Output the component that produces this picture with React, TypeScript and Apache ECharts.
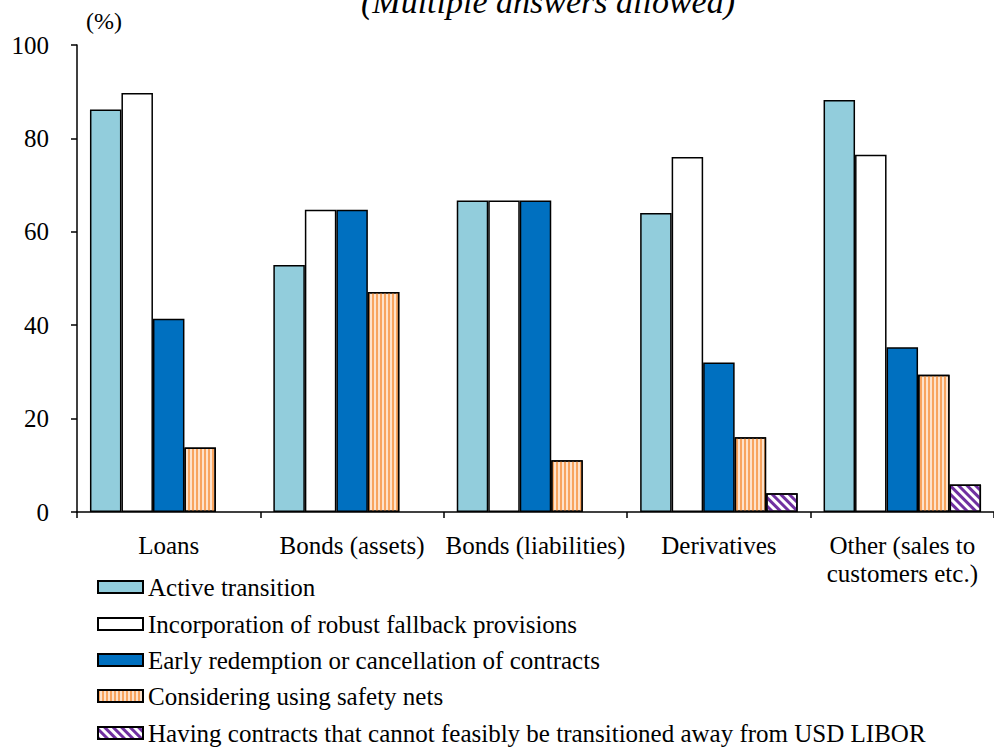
import React, { useEffect, useRef } from "react";
import * as echarts from "echarts";

const categories = [
  "Loans",
  "Bonds (assets)",
  "Bonds (liabilities)",
  "Derivatives",
  "Other (sales to\ncustomers etc.)",
];
const seriesNames = [
  "Active transition",
  "Incorporation of robust fallback provisions",
  "Early redemption or cancellation of contracts",
  "Considering using safety nets",
  "Having contracts that cannot feasibly be transitioned away from USD LIBOR",
];
const activeTransition = [86.2, 52.9, 66.7, 64.0, 88.2];
const robustFallback = [89.7, 64.7, 66.7, 76.0, 76.5];
const earlyRedemption = [41.4, 64.7, 66.7, 32.0, 35.3];
const safetyNets = [13.8, 47.1, 11.1, 16.0, 29.4];
const cannotTransition: (number | null)[] = [null, null, null, 4.0, 5.9];
const yTicks = [0, 20, 40, 60, 80, 100];

const FONT = "Liberation Serif, serif";

export default function App() {
  const ref = useRef<HTMLDivElement>(null);
  useEffect(() => {
    if (!ref.current) return;
    const chart = echarts.init(ref.current, undefined, { renderer: "svg" });
    const border = { borderColor: "#000", borderWidth: 1.5 };
    const mk = (i: number, data: (number | null)[], itemStyle: any) => ({
      name: seriesNames[i],
      type: "bar",
      data,
      barWidth: 31.5,
      barGap: "0%",
      itemStyle: { ...border, ...itemStyle },
    });
    const legendCenters = [587, 624, 660, 696, 733];
    chart.setOption({
      animation: false,
      backgroundColor: "#fff",
      textStyle: { fontFamily: FONT },
      grid: { left: 77, right: -13, top: 45, bottom: 235, containLabel: false },
      graphic: [
        {
          type: "text",
          x: 548,
          y: 1,
          style: {
            text: "(Multiple answers allowed)",
            font: `italic 34px ${FONT}`,
            fill: "#000",
            align: "center",
            verticalAlign: "middle",
          },
        },
        {
          type: "text",
          x: 104,
          y: 21,
          style: {
            text: "(%)",
            font: `24px ${FONT}`,
            fill: "#000",
            align: "center",
            verticalAlign: "middle",
          },
        },
      ],
      legend: seriesNames.map((n, i) => ({
        orient: "vertical",
        left: 97,
        top: legendCenters[i] - 12.5,
        padding: 0,
        itemWidth: 45,
        itemHeight: 12,
        icon: "rect",
        data: [n],
        textStyle: { fontFamily: FONT, fontSize: 25, lineHeight: 25, color: "#000" },
      })),
      xAxis: {
        type: "category",
        data: categories,
        axisLine: { lineStyle: { color: "#000", width: 1.5 } },
        axisTick: { show: true, length: 6, lineStyle: { color: "#000", width: 1.5 } },
        axisLabel: {
          color: "#000",
          fontFamily: FONT,
          fontSize: 25,
          lineHeight: 28,
          margin: 19,
          interval: 0,
        },
      },
      yAxis: {
        type: "value",
        min: 0,
        max: 100,
        interval: 20,
        axisLine: { show: true, lineStyle: { color: "#000", width: 1.5 } },
        axisTick: { show: true, length: 6, lineStyle: { color: "#000", width: 1.5 } },
        splitLine: { show: false },
        axisLabel: {
          color: "#000",
          fontFamily: FONT,
          fontSize: 25,
          margin: 28,
          formatter: (v: number) => (yTicks.includes(v) ? String(v) : ""),
        },
      },
      series: [
        mk(0, activeTransition, { color: "#92CDDC" }),
        mk(1, robustFallback, { color: "#FFFFFF" }),
        mk(2, earlyRedemption, { color: "#0070C0" }),
        mk(3, safetyNets, {
          color: "#FDE2CB",
          decal: {
            color: "#F8A45E",
            symbol: "rect",
            symbolSize: 1,
            dashArrayX: [2, 2],
            dashArrayY: [1, 0],
            rotation: 0,
          },
        }),
        mk(4, cannotTransition, {
          color: "#FFFFFF",
          decal: {
            color: "#7030A0",
            symbol: "rect",
            symbolSize: 1,
            dashArrayX: [1, 0],
            dashArrayY: [3, 3],
            rotation: Math.PI / 4,
          },
        }),
      ],
    });
    return () => chart.dispose();
  }, []);
  return <div ref={ref} style={{ width: 994, height: 747, position: "absolute", left: 0, top: 0 }} />;
}
